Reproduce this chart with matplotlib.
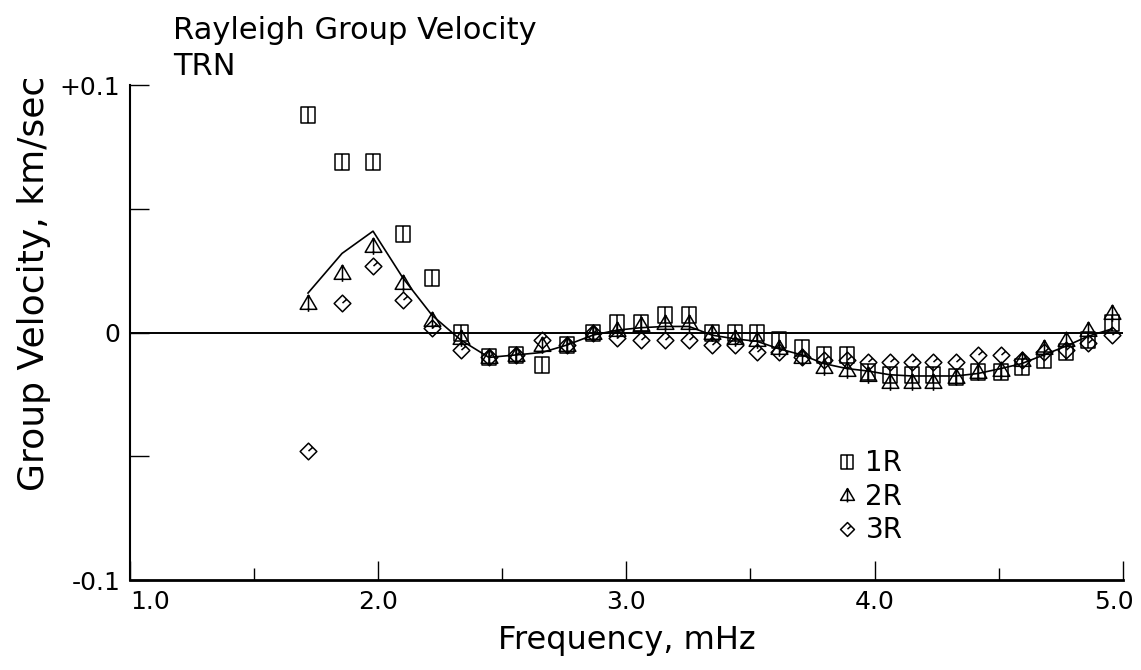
import matplotlib
matplotlib.use("Agg")
import matplotlib.pyplot as plt
import matplotlib.transforms as mtransforms
import numpy as np
from matplotlib.lines import Line2D
from matplotlib.path import Path

# Frequencies (mHz) of the measured modes
freq = [1.717, 1.854, 1.979, 2.100, 2.217, 2.333, 2.446, 2.555, 2.660, 2.760,
        2.865, 2.962, 3.058, 3.155, 3.252, 3.345, 3.437, 3.526, 3.614, 3.707,
        3.796, 3.888, 3.973, 4.061, 4.150, 4.235, 4.327, 4.416, 4.509, 4.593,
        4.682, 4.770, 4.859, 4.956]

# group velocity differences, km/sec
v_1r = [0.088, 0.069, 0.069, 0.040, 0.022, 0.000, -0.010, -0.009, -0.013, -0.005,
        0.000, 0.004, 0.004, 0.007, 0.007, 0.000, 0.000, 0.000, -0.003, -0.006,
        -0.009, -0.009, -0.016, -0.017, -0.017, -0.017, -0.018, -0.016, -0.016, -0.014,
        -0.011, -0.008, -0.003, 0.004]
v_2r = [0.012, 0.024, 0.035, 0.020, 0.005, -0.002, -0.010, -0.009, -0.005, -0.005,
        0.000, 0.001, 0.003, 0.004, 0.004, 0.000, -0.002, -0.003, -0.006, -0.010,
        -0.014, -0.015, -0.017, -0.020, -0.020, -0.020, -0.018, -0.016, -0.015, -0.011,
        -0.006, -0.003, 0.001, 0.008]
v_3r = [-0.048, 0.012, 0.027, 0.013, 0.002, -0.007, -0.010, -0.009, -0.003, -0.005,
        0.000, -0.002, -0.003, -0.003, -0.003, -0.005, -0.005, -0.008, -0.008, -0.010,
        -0.011, -0.011, -0.012, -0.012, -0.012, -0.012, -0.012, -0.009, -0.009, -0.011,
        -0.008, -0.007, -0.004, -0.001]
v_mean = [0.016, 0.032, 0.041, 0.022, 0.007, -0.003, -0.010, -0.009, -0.008, -0.005,
          -0.001, 0.001, 0.002, 0.0025, 0.0025, -0.001, -0.0025, -0.0035, -0.0065, -0.009,
          -0.0125, -0.0145, -0.0155, -0.017, -0.0175, -0.0175, -0.0175, -0.0165, -0.0145, -0.0125,
          -0.009, -0.0055, -0.0015, 0.0015]

series_labels = ["1R", "2R", "3R"]

# marker shapes: split square, triangle with stem, diamond with tick
M, L, C = Path.MOVETO, Path.LINETO, Path.CLOSEPOLY
square_mk = Path([(-0.8, -1), (0.8, -1), (0.8, 1), (-0.8, 1), (-0.8, -1), (0, -1), (0, 1)],
                 [M, L, L, L, C, M, L])
tri_mk = Path([(-1, -0.7), (1, -0.7), (0, 1), (-1, -0.7), (0, -1), (0, 1)],
              [M, L, L, C, M, L])
diam_mk = Path([(0, 1), (1, 0), (0, -1), (-1, 0), (0, 1), (0, 0.05), (0.45, 0.45)],
               [M, L, L, L, C, M, L])
markers = [square_mk, tri_mk, diam_mk]

plt.rcParams["font.family"] = "DejaVu Sans"

fig = plt.figure(figsize=(11.41, 6.70), dpi=100)
ax = fig.add_axes([0.114, 0.134, 0.870, 0.739])

ax.axhline(0, color="black", lw=1.4, zorder=1)
ax.plot(freq, v_mean, color="black", lw=1.2, zorder=2)

for vals, mk in zip([v_1r, v_2r, v_3r], markers):
    ax.plot(freq, vals, ls="none", marker=mk, markersize=12, mfc="none",
            mec="black", mew=1.1, zorder=3)

ax.set_xlim(1.0, 5.0)
ax.set_ylim(-0.1, 0.1)
for side in ["top", "right"]:
    ax.spines[side].set_visible(False)
ax.spines["left"].set_linewidth(1.5)
ax.spines["bottom"].set_linewidth(2.0)

ax.set_xticks([1.0, 2.0, 3.0, 4.0, 5.0])
ax.set_xticklabels(["1.0", "2.0", "3.0", "4.0", "5.0"])
ax.set_xticks([1.5, 2.5, 3.5, 4.5], minor=True)
ax.set_yticks([-0.1, 0.0, 0.1])
ax.set_yticklabels(["-0.1", "0", "+0.1"])
ax.set_yticks([-0.05, 0.05], minor=True)
ax.tick_params(axis="both", which="major", direction="in", length=14, width=1.0,
               labelsize=18, pad=7)
ax.tick_params(axis="x", which="minor", direction="in", length=9, width=1.0)
ax.tick_params(axis="y", which="minor", direction="in", length=14, width=1.0)

xlabels = ax.get_xticklabels()
xlabels[0].set_horizontalalignment("left")
# pull the last label in so it stays inside the figure
shift = mtransforms.ScaledTranslation(-9 / 100, 0, fig.dpi_scale_trans)
xlabels[-1].set_transform(xlabels[-1].get_transform() + shift)

ax.set_xlabel("Frequency, mHz", fontsize=23, labelpad=8)
fig.text(0.030, 1 - 283 / 670, "Group Velocity, km/sec", rotation=90, fontsize=26,
         ha="center", va="center")
fig.text(173 / 1141, 1 - 16 / 670, "Rayleigh Group Velocity", fontsize=22,
         ha="left", va="top")
fig.text(173 / 1141, 1 - 52 / 670, "TRN", fontsize=22, ha="left", va="top")

handles = [Line2D([], [], ls="none", marker=mk, markersize=10, mfc="none",
                  mec="black", mew=1.1) for mk in markers]
ax.legend(handles, series_labels, loc="upper left", bbox_to_anchor=(0.703, 0.287),
          frameon=False, fontsize=20, handlelength=0.6, handletextpad=0.35,
          labelspacing=0.2, borderaxespad=0)

fig.savefig("out.png", dpi=100)
